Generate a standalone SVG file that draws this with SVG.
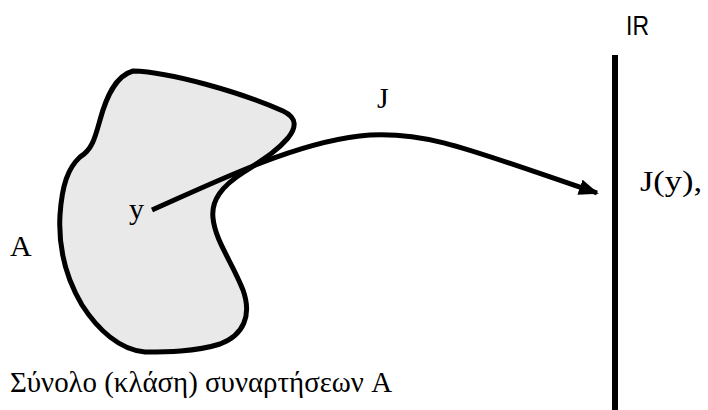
<svg xmlns="http://www.w3.org/2000/svg" width="708" height="410" viewBox="0 0 708 410">
<style>
.t{font-family:"Liberation Serif","Times New Roman",serif;font-size:30px;fill:#000}
.s{font-family:"Liberation Sans",Arial,sans-serif;font-size:28px;fill:#000}
</style>
<defs>
<marker id="ah" viewBox="0 0 10 8" refX="9" refY="4" markerWidth="4" markerHeight="3.2" markerUnits="strokeWidth" orient="auto">
<path d="M0,0 L10,4 L0,8 Z" fill="#000"/>
</marker>
</defs>
<rect width="708" height="410" fill="#fff"/>
<g id="setA">
<path d="M133,71 C170,72 240,92 283,111 C298,118 296,128 288,138 C276,152 262,160 244,172 C222,186 211,200 213,218 C215,240 232,262 243,290 C252,315 244,335 220,344 C195,352 165,352 145,352 C120,350 98,330 82,305 C66,278 58,250 60,215 C62,185 68,168 80,157 C92,150 95,138 100,120 C106,98 115,76 133,71 Z" fill="#e9e9e9" stroke="#000" stroke-width="5" stroke-linejoin="round"/>
<text class="t" x="129" y="219">y</text>
<text class="t" x="10" y="256">A</text>
</g>
<g id="R">
<line x1="615" y1="55" x2="615" y2="410" stroke="#000" stroke-width="6"/>
<text class="s" x="626" y="35" textLength="23" lengthAdjust="spacingAndGlyphs">IR</text>
<text class="t" x="640" y="191" textLength="62" lengthAdjust="spacingAndGlyphs">J(y),</text>
</g>
<g id="connectors">
<path d="M152,210 C220,180 300,140 370,135 C430,132 470,150 597,193" fill="none" stroke="#000" stroke-width="5" marker-end="url(#ah)"/>
<text class="t" x="377" y="108">J</text>
</g>
<text class="t" x="10" y="392" textLength="382" lengthAdjust="spacingAndGlyphs">Σύνολο (κλάση) συναρτήσεων A</text>
</svg>
